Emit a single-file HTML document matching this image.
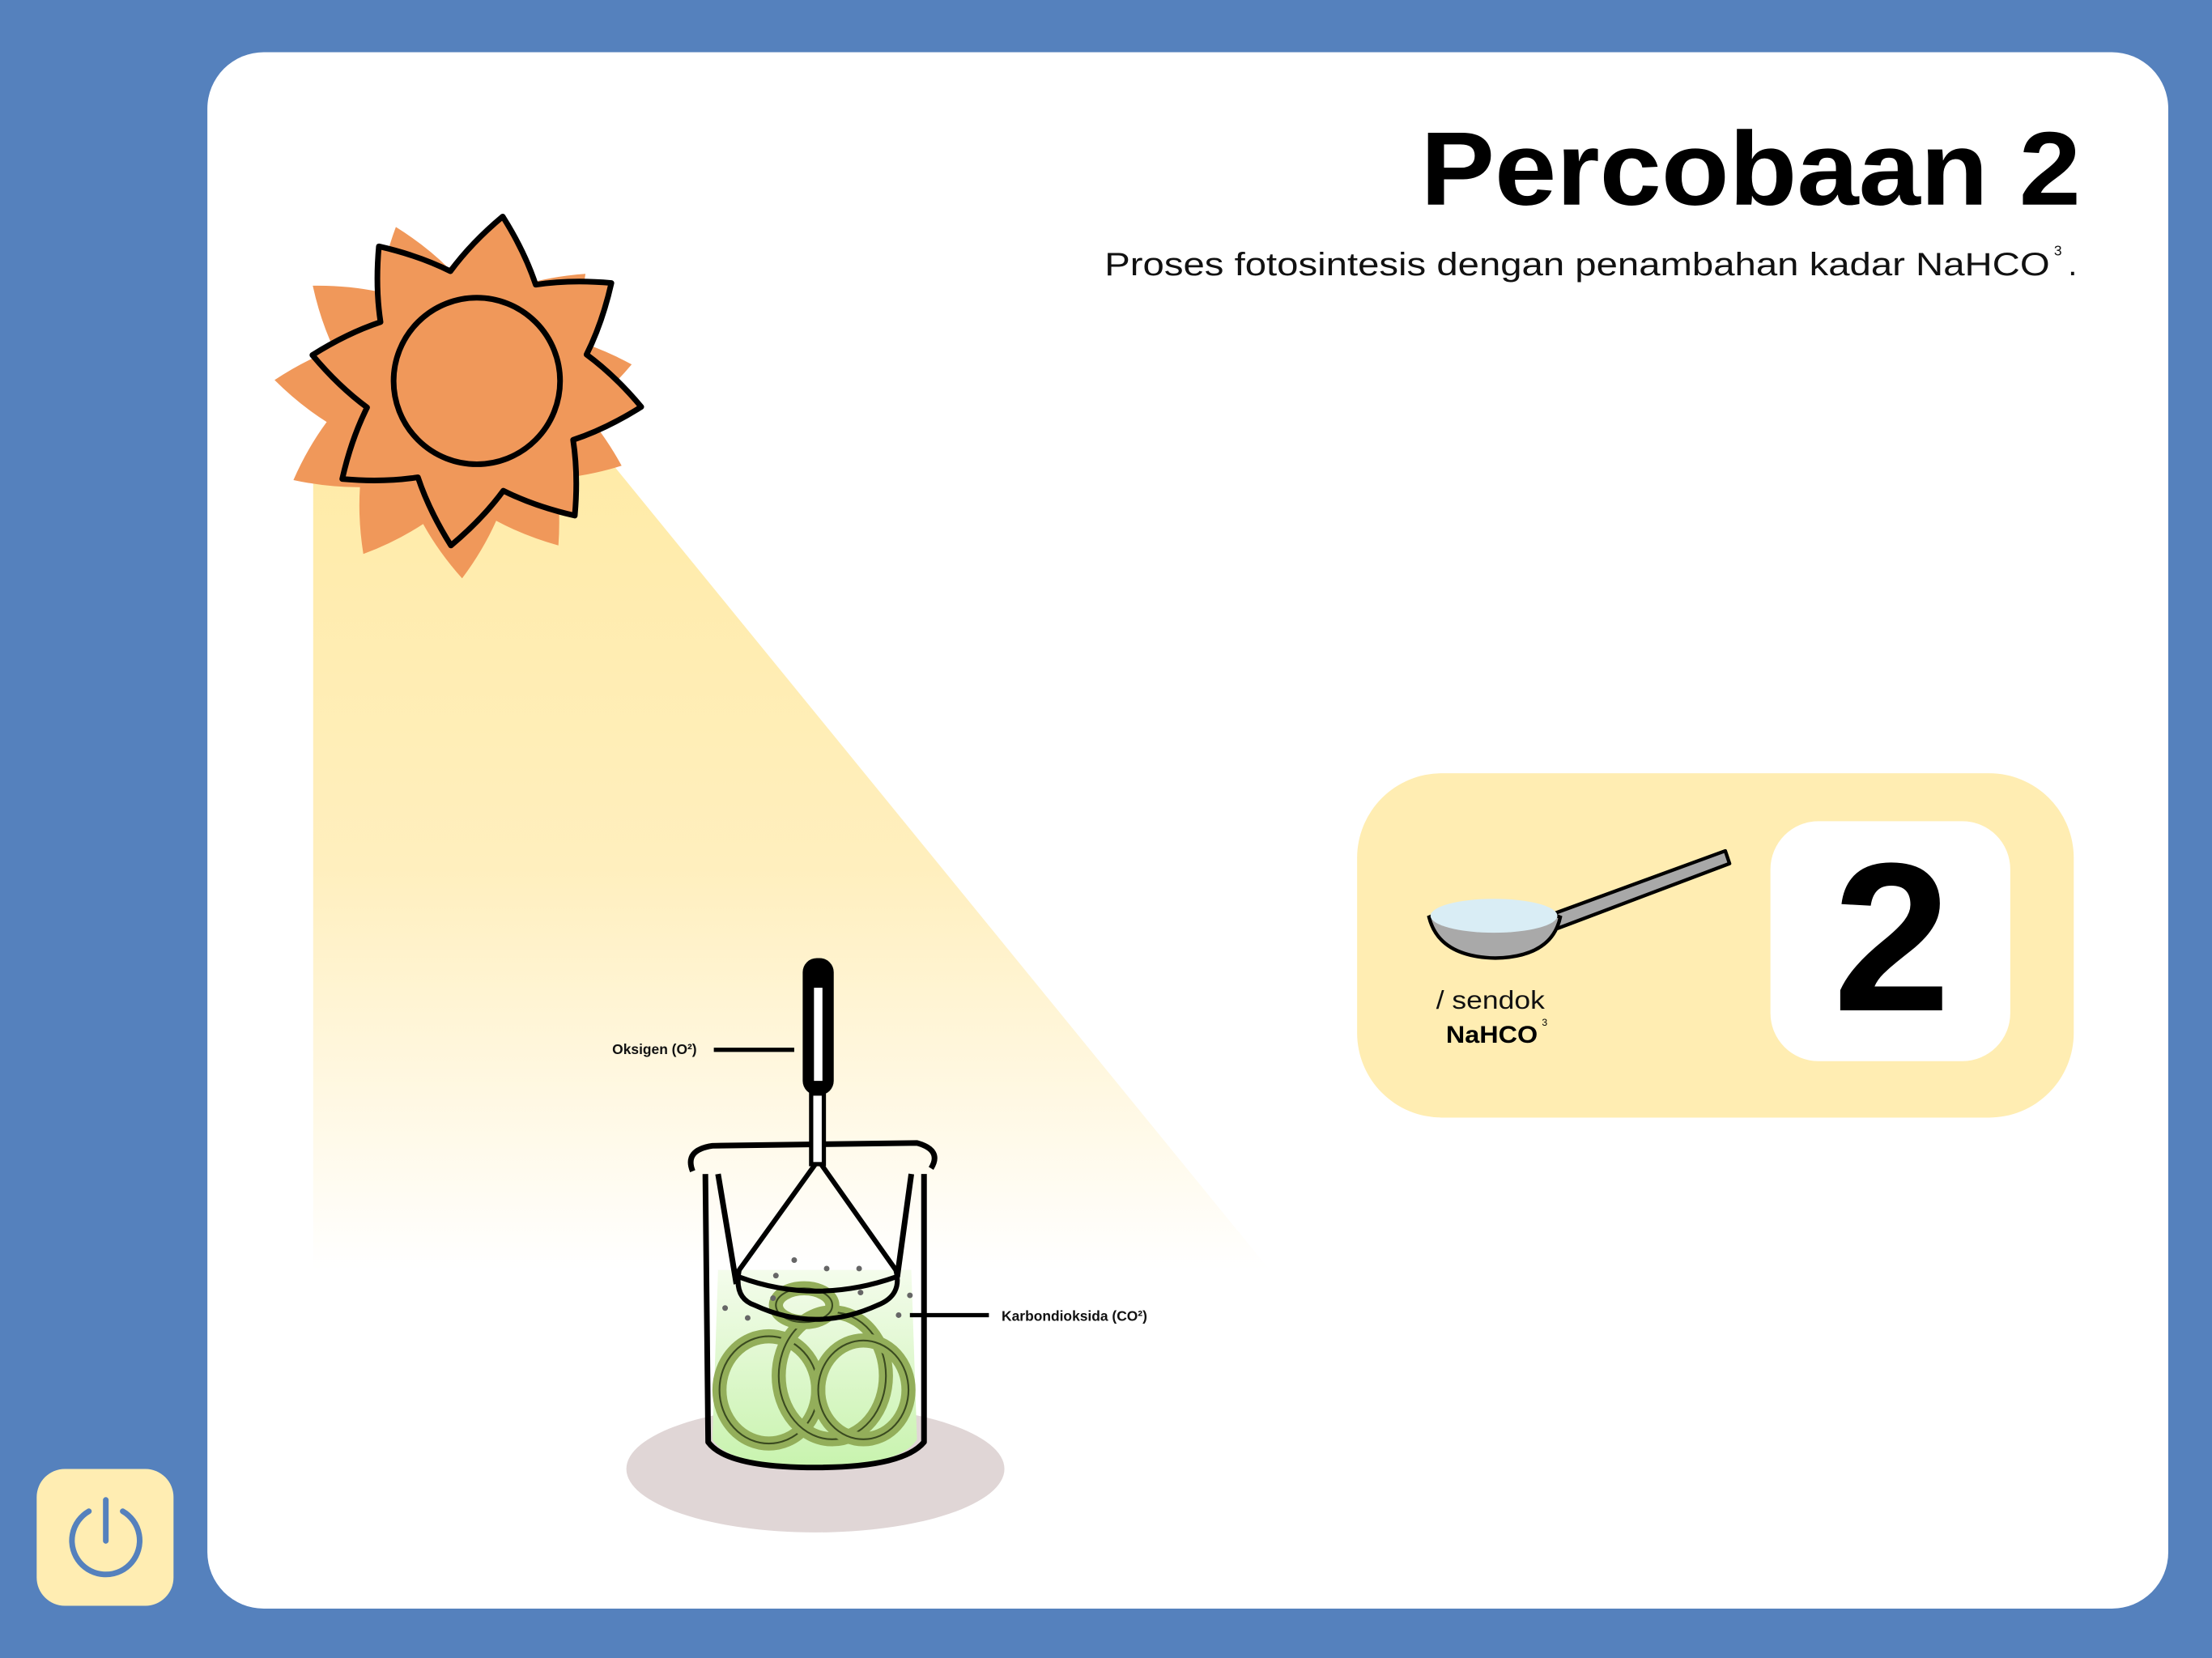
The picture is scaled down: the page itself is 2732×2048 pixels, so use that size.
<!DOCTYPE html>
<html><head><meta charset="utf-8"><style>
html,body{margin:0;padding:0;background:#5581BD;}
svg{display:block}
text{font-family:"Liberation Sans",sans-serif}
</style></head><body>
<svg width="2732" height="2048" viewBox="0 0 1568 1175" preserveAspectRatio="none" xmlns="http://www.w3.org/2000/svg">
<defs>
<linearGradient id="beam" x1="0" y1="0" x2="0" y2="1">
<stop offset="0" stop-color="#FFEBA8"/><stop offset="0.5" stop-color="#FFEFBE"/><stop offset="1" stop-color="#FFFFFF"/>
</linearGradient>
<linearGradient id="liq" x1="0" y1="0" x2="0" y2="1">
<stop offset="0" stop-color="#F4FCEC"/><stop offset="1" stop-color="#C8F3AE"/>
</linearGradient>
</defs>
<rect x="0" y="0" width="1568" height="1175" fill="#5581BD"/>
<rect x="147" y="37" width="1390" height="1103" rx="40" fill="#FFFFFF"/>
<polygon points="222,330 435,330 900,900 222,900" fill="url(#beam)"/>
<g>
<path id="sunback" fill="#F0985A"/>
<path id="sunfront" fill="#F0985A" stroke="#000" stroke-width="4" stroke-linejoin="round"/>
<circle cx="338" cy="270" r="59" fill="#F0985A" stroke="#000" stroke-width="4"/>
</g>
<text x="1007" y="145" textLength="468" lengthAdjust="spacingAndGlyphs" font-size="74" font-weight="bold" fill="#000">Percobaan 2</text>
<text x="783" y="195" textLength="670" lengthAdjust="spacingAndGlyphs" font-size="23" fill="#111">Proses fotosintesis dengan penambahan kadar NaHCO</text>
<text x="1456" y="181" font-size="10" fill="#111">3</text>
<text x="1466" y="195" font-size="23" fill="#111">.</text>
<g>
<rect x="962" y="548" width="508" height="244" rx="60" fill="#FFEDB2"/>
<rect x="1255" y="582" width="170" height="170" rx="34" fill="#FFFFFF"/>
<text x="1341" y="716" text-anchor="middle" font-size="150" font-weight="bold" fill="#000">2</text>
<g>
<polygon points="1100,648 1223,603 1226,612 1104,658" fill="#A8A8A8" stroke="#000" stroke-width="2.5" stroke-linejoin="round"/>
<path d="M1013,650 Q1060,630 1106,650 Q1100,678 1060,679 Q1020,678 1013,650 Z" fill="#A9A9A9" stroke="#000" stroke-width="2.5"/>
<ellipse cx="1059" cy="649" rx="45" ry="12" fill="#D9EDF5"/>
</g>
<text x="1018" y="715" textLength="77" lengthAdjust="spacingAndGlyphs" font-size="18" fill="#111">/ sendok</text>
<text x="1025" y="739" textLength="65" lengthAdjust="spacingAndGlyphs" font-size="17" font-weight="bold" fill="#000">NaHCO</text>
<text x="1093" y="727" font-size="7" fill="#000">3</text>
</g>
<g>
<ellipse cx="578" cy="1041" rx="134" ry="45" fill="#E0D6D6"/>
<path d="M509,900 L646,900 L650,1020 Q640,1038 578,1040 Q515,1038 505,1020 Z" fill="url(#liq)"/>
<g id="weed" stroke="#3a4a20" stroke-width="0.8" fill="#A9C26F"></g>
<path d="M500,832 L502,1022 Q515,1040 578,1040 Q640,1040 655,1022 L655,832 M491,830 Q485,815 505,812 L650,810 Q668,815 660,828 M509,832 L522,910 M646,832 L636,905" fill="none" stroke="#000" stroke-width="4" stroke-linejoin="round"/>
<path d="M578,825 L524,900 Q520,920 535,925 Q578,945 622,925 Q640,918 635,900 L582,825 M524,905 Q578,925 635,905" fill="none" stroke="#000" stroke-width="3.5" stroke-linejoin="round"/>
<rect x="575" y="775" width="9" height="50" fill="#fff" stroke="#000" stroke-width="3"/>
<rect x="569" y="679" width="22" height="97" rx="10" fill="#000"/>
<rect x="577" y="700" width="6" height="66" fill="#fff"/>
<g id="bubbles" fill="#666"></g>
<line x1="506" y1="744" x2="563" y2="744" stroke="#000" stroke-width="3"/>
<text x="434" y="747" font-size="10" font-weight="bold" fill="#111">Oksigen (O²)</text>
<line x1="645" y1="932" x2="701" y2="932" stroke="#000" stroke-width="3"/>
<text x="710" y="936" font-size="10" font-weight="bold" fill="#111">Karbondioksida (CO²)</text>
</g>
<g>
<rect x="26" y="1041" width="97" height="97" rx="20" fill="#FFEDB2"/>
<path d="M63,1071 A24,24 0 1 0 87,1071" fill="none" stroke="#5581BD" stroke-width="4" stroke-linecap="round"/>
<path d="M75,1063 L75,1092" fill="none" stroke="#5581BD" stroke-width="4" stroke-linecap="round"/>
</g>
</svg>
<script>
function star(cx,cy,n,ro,ri,rot){let d='';for(let i=0;i<n;i++){const a=rot+i*2*Math.PI/n,b=a+Math.PI/n;const ox=cx+ro*Math.cos(a),oy=cy+ro*Math.sin(a);const ix=cx+ri*Math.cos(b),iy=cy+ri*Math.sin(b);const mx=cx+(ri+18)*Math.cos(a+Math.PI/(2*n)),my=cy+(ri+18)*Math.sin(a+Math.PI/(2*n));d+=(i?'L':'M')+ox+','+oy+' Q'+mx+','+my+' '+ix+','+iy+' ';const nx=a+2*Math.PI/n,m2x=cx+(ri+18)*Math.cos(nx-Math.PI/(2*n)),m2y=cy+(ri+18)*Math.sin(nx-Math.PI/(2*n));d+='Q'+m2x+','+m2y+' '+(cx+ro*Math.cos(nx))+','+(cy+ro*Math.sin(nx))+' ';}return d+'Z';}
document.getElementById('sunfront').setAttribute('d',star(338,270,8,118,80,-2.2));
document.getElementById('sunback').setAttribute('d',star(322,282,11,128,92,-1.9));
const bub=[[563,893],[586,899],[609,899],[550,904],[610,916],[548,920],[645,918],[514,927],[530,934],[637,932]];
const bg=document.getElementById('bubbles');
bub.forEach(p=>{const c=document.createElementNS('http://www.w3.org/2000/svg','circle');c.setAttribute('cx',p[0]);c.setAttribute('cy',p[1]);c.setAttribute('r',2);


bg.appendChild(c);});
const wg=document.getElementById('weed');
const loops=[[545,985,35,38],[590,975,38,45],[612,985,32,35],[570,925,20,12]];
loops.forEach(l=>{const e=document.createElementNS('http://www.w3.org/2000/svg','ellipse');e.setAttribute('cx',l[0]);e.setAttribute('cy',l[1]);e.setAttribute('rx',l[2]);e.setAttribute('ry',l[3]);e.setAttribute('fill','none');e.setAttribute('stroke','#93AE5A');e.setAttribute('stroke-width','10');


wg.appendChild(e);const e2=e.cloneNode();e2.setAttribute('stroke','#3a4a20');e2.setAttribute('stroke-width','1.2');wg.appendChild(e2);});
</script>
</body></html>
